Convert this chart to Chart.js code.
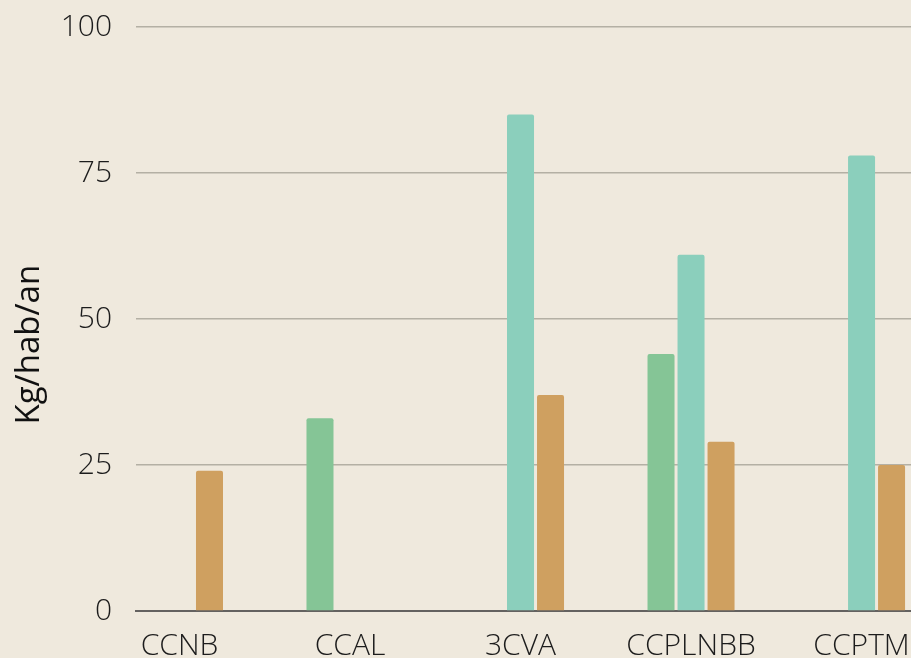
<!DOCTYPE html>
<html>
<head>
<meta charset="utf-8">
<script src="https://cdn.jsdelivr.net/npm/chart.js@4.4.0/dist/chart.umd.min.js"></script>
<style>
  html, body { margin: 0; padding: 0; background: #efe9dd; overflow: hidden; }
  #wrap { width: 911px; height: 658px; position: relative; }
</style>
</head>
<body>
<div id="wrap"><canvas id="chart"></canvas></div>
<script>
// Chart data
const categories = ['CCNB', 'CCAL', '3CVA', 'CCPLNBB', 'CCPTM'];
const greenValues = [null, 33, null, 44, null];
const tealValues = [null, null, 85, 61, 78];
const tanValues = [24, null, 37, 29, 25];
const yTicks = [0, 25, 50, 75, 100];

// bars sit on category index positions of a linear x scale
const toPoints = (values) => values.map((v, i) => ({ x: i, y: v }));

const ctx = document.getElementById('chart').getContext('2d');

new Chart(ctx, {
    type: 'bar',
    data: {
        datasets: [
            { label: 'green', data: toPoints(greenValues), backgroundColor: '#85c596' },
            { label: 'teal', data: toPoints(tealValues), backgroundColor: '#8bcfbc' },
            { label: 'tan', data: toPoints(tanValues), backgroundColor: '#cfa060' }
        ]
    },
    options: {
        responsive: true,
        maintainAspectRatio: false,
        animation: false,
        categoryPercentage: 0.528,
        barPercentage: 0.9,
        borderRadius: { topLeft: 2, topRight: 2 },
        layout: { padding: { top: 27, right: 0, left: 0, bottom: 0 } },
        plugins: {
            legend: { display: false },
            tooltip: { enabled: false }
        },
        scales: {
            x: {
                type: 'linear',
                offset: false,
                min: -0.255,
                max: 4.29,
                grid: { display: false, offset: false },
                border: { color: '#646260', width: 2 },
                afterFit: (scale) => {
                    scale.height = 47;
                    scale.paddingLeft = 0;
                    scale.paddingRight = 0;
                },
                ticks: {
                    stepSize: 1,
                    includeBounds: false,
                    autoSkip: false,
                    maxRotation: 0,
                    padding: 9,
                    color: '#1c1c1c',
                    font: { family: 'Open Sans', size: 30, weight: 300 },
                    callback: (value) => Number.isInteger(value) ? categories[value] : ''
                }
            },
            y: {
                min: 0,
                max: 100,
                afterBuildTicks: (scale) => { scale.ticks = yTicks.map(v => ({ value: v })); },
                grid: { color: '#b4b0a4', lineWidth: 1.5, drawTicks: false },
                border: { display: false },
                afterFit: (scale) => {
                    scale.width = 136;
                    scale.paddingTop = 0;
                    scale.paddingBottom = 0;
                },
                title: {
                    display: true,
                    // trailing spaces push the rotated title a bit lower, as in the source
                    text: 'Kg/hab/an\u00a0\u00a0\u00a0\u00a0\u00a0\u00a0',
                    color: '#111111',
                    font: { family: 'Open Sans', size: 33, weight: 500 },
                    padding: { top: 10, bottom: 0 }
                },
                ticks: {
                    padding: 24,
                    color: '#1c1c1c',
                    font: { family: 'Open Sans', size: 30, weight: 300 }
                }
            }
        }
    }
});
</script>
</body>
</html>
